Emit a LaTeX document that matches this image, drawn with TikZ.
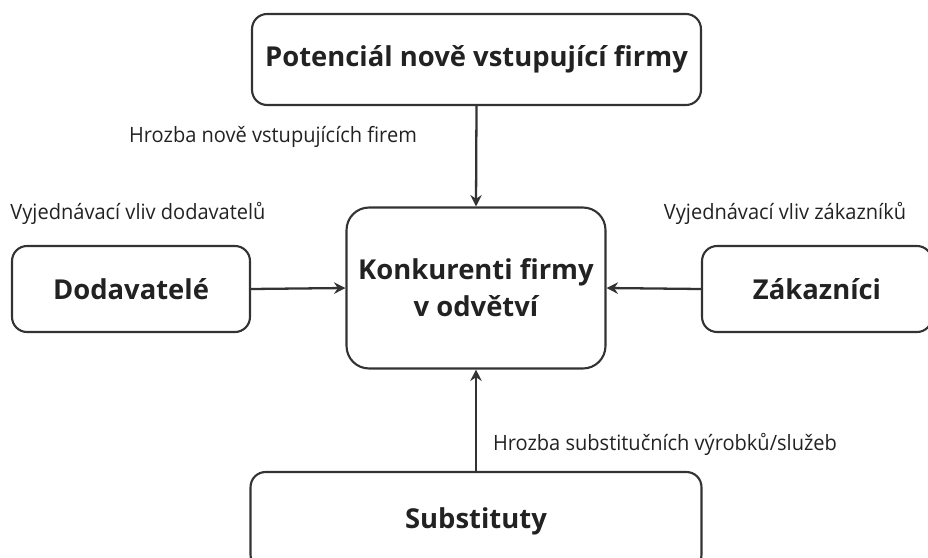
\documentclass[tikz,border=0pt]{standalone}
\usepackage{fontspec}
\setmainfont{Open Sans}
\newfontfamily\labelfont{Open Sans}[FakeStretch=0.95]
\usepackage{xcolor}
\usepackage{tikz}
\usetikzlibrary{arrows.meta, positioning}
\definecolor{linegray}{HTML}{333333}
\definecolor{textgray}{HTML}{222222}

\begin{document}
\begin{tikzpicture}[
    x=0.02cm, y=-0.02cm,
    force/.style={rectangle, draw=linegray, line width=1.2pt, rounded corners=0.3cm, align=center, text=textgray, font=\fontsize{15.6}{21}\selectfont\bfseries},
    label/.style={text=textgray, font=\labelfont\fontsize{12}{14}\selectfont, inner sep=0pt},
    arrow/.style={-{Stealth[length=6.5pt, width=6.5pt]}, line width=1.3pt, draw=linegray}
]
\useasboundingbox (0,0) rectangle (928,557);

% Forces
\node[force, minimum width=8.98cm, minimum height=1.82cm] (entrants) at (476.5,59.5) {Potenciál nově vstupující firmy};
\node[force, rounded corners=0.45cm, minimum width=5.18cm, minimum height=3.22cm] (rivals) at (476,288) {Konkurenti firmy\\v odvětví};
\node[force, minimum width=4.76cm, minimum height=1.72cm] (suppliers) at (131,289) {Dodavatelé};
\node[force, minimum width=4.6cm, minimum height=1.72cm] (buyers) at (817,289) {Zákazníci};
\node[force, minimum width=9.02cm, minimum height=1.96cm] (substitutes) at (476,521) {Substituty};

% Arrows
\draw[arrow] (entrants.south) -- (rivals.north);
\draw[arrow] (suppliers.east) -- (rivals.west);
\draw[arrow] (buyers.west) -- (rivals.east);
\draw[arrow] (substitutes.north) -- (rivals.south);

% Labels
\node[label] (entrantslabel) at (273,137) {Hrozba nově vstupujících firem};
\node[label] (supplierslabel) at (138,213) {Vyjednávací vliv dodavatelů};
\node[label] (buyerslabel) at (785,213) {Vyjednávací vliv zákazníků};
\node[label] (substituteslabel) at (665,444) {Hrozba substitučních výrobků/služeb};

\end{tikzpicture}
\end{document}
